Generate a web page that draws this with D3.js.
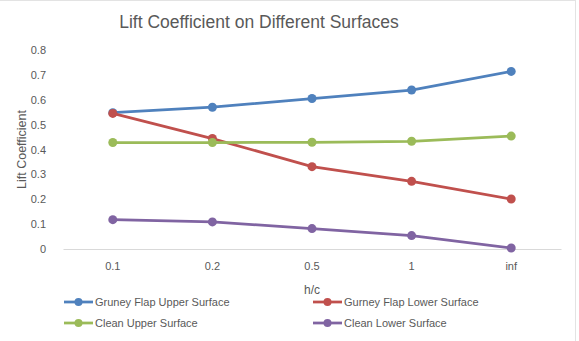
<!DOCTYPE html>
<html lang="en">
<head>
    <meta charset="UTF-8">
    <title>Lift Coefficient on Different Surfaces</title>
    <script src="https://d3js.org/d3.v7.min.js"></script>
    <style>
        body { margin: 0; background: #fff; font-family: "Liberation Sans", Arial, sans-serif; }
        .tick text { fill: #595959; font-size: 11px; }
    </style>
</head>
<body>
    <div id="chart"></div>
    <script>
        // data
        const categories = ["0.1", "0.2", "0.5", "1", "inf"];
        const gurneyUpper = [0.548, 0.570, 0.605, 0.639, 0.714];
        const gurneyLower = [0.545, 0.444, 0.331, 0.272, 0.201];
        const cleanUpper = [0.428, 0.428, 0.429, 0.433, 0.454];
        const cleanLower = [0.118, 0.109, 0.082, 0.054, 0.004];
        const yTicks = [0, 0.1, 0.2, 0.3, 0.4, 0.5, 0.6, 0.7, 0.8];

        const series = [
            { name: "Gruney Flap Upper Surface", values: gurneyUpper, color: "#4f81bd" },
            { name: "Gurney Flap Lower Surface", values: gurneyLower, color: "#c0504d" },
            { name: "Clean Upper Surface", values: cleanUpper, color: "#9bbb59" },
            { name: "Clean Lower Surface", values: cleanLower, color: "#8064a2" }
        ];

        const W = 579, H = 341;
        const margin = { top: 50, right: 18, bottom: 92, left: 63 };
        const width = W - margin.left - margin.right;
        const height = H - margin.top - margin.bottom;

        const svg = d3.select("#chart").append("svg")
            .attr("width", W)
            .attr("height", H);

        // faint chart border
        svg.append("line").attr("x1", 0).attr("x2", 576).attr("y1", 0.5).attr("y2", 0.5)
            .attr("stroke", "#e3e3e3");
        svg.append("line").attr("x1", 575.5).attr("x2", 575.5).attr("y1", 0).attr("y2", H)
            .attr("stroke", "#e3e3e3");

        svg.append("text")
            .attr("x", 259).attr("y", 28)
            .attr("text-anchor", "middle")
            .attr("fill", "#595959")
            .style("font-size", "17.5px")
            .text("Lift Coefficient on Different Surfaces");

        const g = svg.append("g")
            .attr("transform", "translate(" + margin.left + "," + margin.top + ")");

        const x = d3.scaleBand().domain(categories).range([0, width]);
        const y = d3.scaleLinear().domain([0, 0.8]).range([height, 0]);

        const yAxis = g.append("g")
            .call(d3.axisLeft(y).tickValues(yTicks).tickSize(0).tickPadding(17)
                .tickFormat(d => d === 0 ? "0" : d3.format(".1f")(d)));
        yAxis.select(".domain").remove();

        const xAxis = g.append("g")
            .attr("transform", "translate(0," + height + ")")
            .call(d3.axisBottom(x).tickSize(0).tickPadding(13));
        xAxis.select(".domain").attr("stroke", "#d9d9d9");

        g.append("text")
            .attr("x", width / 2).attr("y", height + 45)
            .attr("text-anchor", "middle")
            .attr("fill", "#595959")
            .style("font-size", "12px")
            .text("h/c");

        g.append("text")
            .attr("transform", "translate(-37," + (height / 2) + ") rotate(-90)")
            .attr("text-anchor", "middle")
            .attr("fill", "#595959")
            .style("font-size", "12.5px")
            .text("Lift Coefficient");

        const line = d3.line()
            .x((d, i) => x(categories[i]) + x.bandwidth() / 2)
            .y(d => y(d));

        series.forEach(s => {
            g.append("path")
                .datum(s.values)
                .attr("fill", "none")
                .attr("stroke", s.color)
                .attr("stroke-width", 2.75)
                .attr("stroke-linejoin", "round")
                .attr("d", line);
            g.selectAll(null)
                .data(s.values)
                .enter().append("circle")
                .attr("cx", (d, i) => x(categories[i]) + x.bandwidth() / 2)
                .attr("cy", d => y(d))
                .attr("r", 4.5)
                .attr("fill", s.color);
        });

        // legend, two columns
        const legend = svg.append("g");
        series.forEach((s, i) => {
            const lx = i % 2 === 0 ? 64 : 313;
            const ly = i < 2 ? 302 : 323;
            const item = legend.append("g").attr("transform", "translate(" + lx + "," + ly + ")");
            item.append("line").attr("x1", 0).attr("x2", 29).attr("y1", 0).attr("y2", 0)
                .attr("stroke", s.color).attr("stroke-width", 2.75);
            item.append("circle").attr("cx", 14.5).attr("cy", 0).attr("r", 4).attr("fill", s.color);
            item.append("text").attr("x", 31).attr("y", 4)
                .attr("fill", "#595959")
                .style("font-size", "11px")
                .text(s.name);
        });
    </script>
</body>
</html>
